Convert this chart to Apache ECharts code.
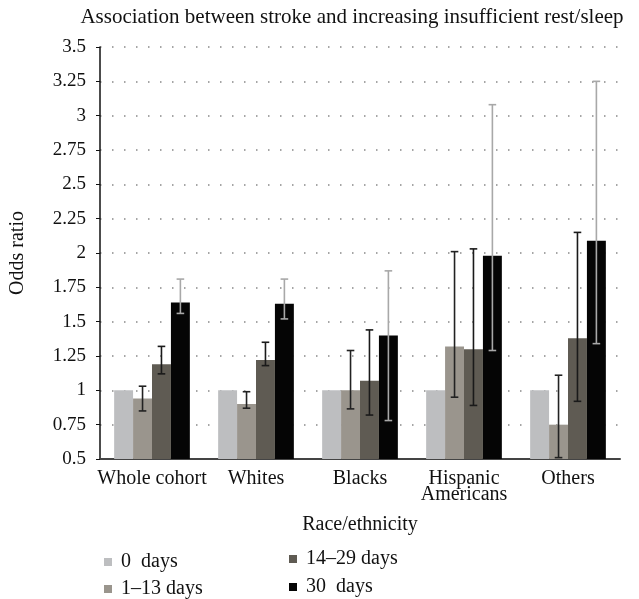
<!DOCTYPE html>
<html>
<head>
<meta charset="utf-8">
<script src="https://cdn.jsdelivr.net/npm/echarts@6/dist/echarts.min.js"></script>
<style>html,body{margin:0;padding:0;background:#fff}#c{width:639px;height:599px}</style>
</head>
<body>
<div id="c"></div>
<script>
var categories = ['Whole cohort', 'Whites', 'Blacks', 'Hispanic\nAmericans', 'Others'];
var seriesNames = ['0  days', '1–13 days', '14–29 days', '30  days'];
var days0 = [1, 1, 1, 1, 1];
var days1to13 = [0.94, 0.90, 1.00, 1.32, 0.75];
var days14to29 = [1.19, 1.22, 1.07, 1.30, 1.38];
var days30 = [1.64, 1.63, 1.40, 1.98, 2.09];
var low1to13 = [0.85, 0.87, 0.865, 0.95, 0.51];
var high1to13 = [1.03, 0.99, 1.29, 2.01, 1.11];
var low14to29 = [1.12, 1.18, 0.82, 0.89, 0.92];
var high14to29 = [1.32, 1.35, 1.44, 2.03, 2.15];
var low30 = [1.56, 1.52, 0.78, 1.29, 1.34];
var high30 = [1.81, 1.81, 1.87, 3.08, 3.25];
var yTicks = {min: 0.5, max: 3.5, interval: 0.25};

var colors = ['#bdbec0', '#9a958d', '#5f5b53', '#050505'];
var errColors = [null, '#222222', '#1a1a1a', '#a8a8a8'];
var BAR_FRAC = 0.182;
var FONT = 'Liberation Serif';

var values = [days0, days1to13, days14to29, days30];
var lows = [null, low1to13, low14to29, low30];
var highs = [null, high1to13, high14to29, high30];

var series = [];
values.forEach(function (v, i) {
  series.push({
    name: seriesNames[i], type: 'bar', data: v, barWidth: (BAR_FRAC * 100) + '%', barGap: '0%',
    itemStyle: {color: colors[i]}, z: 2
  });
});
[1, 2, 3].forEach(function (i) {
  var d = categories.map(function (c, k) { return [k, lows[i][k], highs[i][k]]; });
  series.push({
    type: 'custom', data: d, z: 5, silent: true,
    encode: {x: 0, y: [1, 2]},
    renderItem: function (params, api) {
      var k = api.value(0);
      var band = api.size([1, 0])[0];
      var off = (i - 1.5) * band * BAR_FRAC;
      var pLow = api.coord([k, api.value(1)]);
      var pHigh = api.coord([k, api.value(2)]);
      var x = pLow[0] + off;
      var cap = 3.8;
      var st = {stroke: errColors[i], lineWidth: 1.6};
      return {type: 'group', children: [
        {type: 'line', shape: {x1: x, y1: pLow[1], x2: x, y2: pHigh[1]}, style: st},
        {type: 'line', shape: {x1: x - cap, y1: pLow[1], x2: x + cap, y2: pLow[1]}, style: st},
        {type: 'line', shape: {x1: x - cap, y1: pHigh[1], x2: x + cap, y2: pHigh[1]}, style: st}
      ]};
    }
  });
});

var legendText = {fontFamily: FONT, fontSize: 20, color: '#111', padding: [0, 0, 0, 4]};
var legendPos = [[104, 552], [104, 579], [289, 549], [289, 577]];
var legends = seriesNames.map(function (n, i) {
  return {data: [n], left: legendPos[i][0], top: legendPos[i][1], padding: 0,
    itemWidth: 8, itemHeight: 8, itemGap: 0, icon: 'rect', textStyle: legendText};
});

var option = {
  animation: false,
  backgroundColor: '#fff',
  textStyle: {fontFamily: FONT},
  title: {
    text: 'Association between stroke and increasing insufficient rest/sleep',
    left: 347, textAlign: 'center', top: 2,
    textStyle: {fontFamily: FONT, fontSize: 21, fontWeight: 'normal', color: '#111'}
  },
  legend: legends,
  grid: {left: 97, right: 19, top: 47, bottom: 140},
  xAxis: {
    type: 'category', data: categories,
    name: 'Race/ethnicity', nameLocation: 'middle', nameGap: 56,
    nameTextStyle: {fontFamily: FONT, fontSize: 20, color: '#111'},
    axisLine: {lineStyle: {color: '#444', width: 2}},
    axisTick: {show: false},
    axisLabel: {fontFamily: FONT, fontSize: 20, color: '#111', margin: 12, lineHeight: 16, interval: 0}
  },
  yAxis: {
    type: 'value', min: yTicks.min, max: yTicks.max, interval: yTicks.interval,
    name: 'Odds ratio', nameLocation: 'middle', nameGap: 72,
    nameTextStyle: {fontFamily: FONT, fontSize: 20, color: '#111'},
    axisLine: {show: true, lineStyle: {color: '#111', width: 1.5}},
    axisTick: {show: true, length: 4, lineStyle: {color: '#111'}},
    axisLabel: {fontFamily: FONT, fontSize: 19, color: '#111', margin: 14},
    splitLine: {show: true, lineStyle: {color: '#888', width: 1.5, type: [1.5, 10.5]}}
  },
  series: series
};
var chart = echarts.init(document.getElementById('c'), null, {renderer: 'canvas'});
chart.setOption(option);
</script>
</body>
</html>
